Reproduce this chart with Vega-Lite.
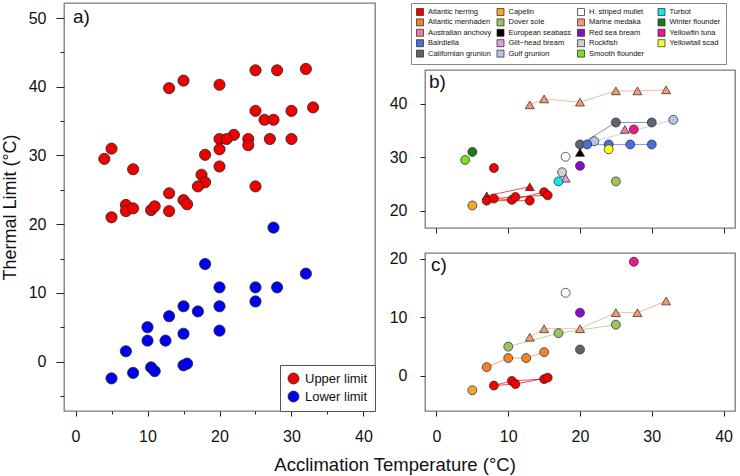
{
  "$schema": "https://vega.github.io/schema/vega-lite/v6.json",
  "background": "white",
  "padding": {"left": 0, "top": 2, "right": 0, "bottom": 0},
  "config": {
    "font": "Liberation Sans",
    "view": {"stroke": "#7a7a7a", "strokeWidth": 1.3},
    "axis": {"domain": false, "grid": false, "labelFont": "Liberation Sans", "labelFontSize": 16, "labelColor": "#111", "tickColor": "#222", "tickWidth": 1, "titleFont": "Liberation Sans", "titleFontWeight": "normal", "titleFontSize": 18, "titleColor": "#111", "labelOverlap": false, "labelFlush": false, "labelBound": false},
    "title": {"font": "Liberation Sans", "fontWeight": "normal", "color": "#111"}
  },
  "datasets": {
    "pts": [
      {"sp": "Atlantic herring", "lim": "Upper limit", "method": "B", "T": 7, "v": 22.8},
      {"sp": "Atlantic herring", "lim": "Upper limit", "method": "B", "T": 13, "v": 24.5},
      {"sp": "Atlantic herring", "lim": "Upper limit", "method": "A", "T": 7, "v": 21.9},
      {"sp": "Atlantic herring", "lim": "Upper limit", "method": "A", "T": 8, "v": 22.3},
      {"sp": "Atlantic herring", "lim": "Upper limit", "method": "A", "T": 8, "v": 28.0},
      {"sp": "Atlantic herring", "lim": "Upper limit", "method": "A", "T": 10.5, "v": 22.05},
      {"sp": "Atlantic herring", "lim": "Upper limit", "method": "A", "T": 11, "v": 22.6},
      {"sp": "Atlantic herring", "lim": "Upper limit", "method": "A", "T": 13, "v": 21.9},
      {"sp": "Atlantic herring", "lim": "Upper limit", "method": "A", "T": 15, "v": 23.5},
      {"sp": "Atlantic herring", "lim": "Upper limit", "method": "A", "T": 15.5, "v": 22.9},
      {"sp": "Capelin", "lim": "Upper limit", "method": "A", "T": 5, "v": 21.0},
      {"sp": "Smooth flounder", "lim": "Upper limit", "method": "A", "T": 4, "v": 29.5},
      {"sp": "Winter flounder", "lim": "Upper limit", "method": "A", "T": 5, "v": 31.0},
      {"sp": "Marine medaka", "lim": "Upper limit", "method": "B", "T": 13, "v": 39.8},
      {"sp": "Marine medaka", "lim": "Upper limit", "method": "B", "T": 15, "v": 40.9},
      {"sp": "Marine medaka", "lim": "Upper limit", "method": "B", "T": 20, "v": 40.3},
      {"sp": "Marine medaka", "lim": "Upper limit", "method": "B", "T": 25, "v": 42.4},
      {"sp": "Marine medaka", "lim": "Upper limit", "method": "B", "T": 28, "v": 42.4},
      {"sp": "Marine medaka", "lim": "Upper limit", "method": "B", "T": 32, "v": 42.6},
      {"sp": "Californian grunion", "lim": "Upper limit", "method": "A", "T": 20, "v": 32.4},
      {"sp": "Californian grunion", "lim": "Upper limit", "method": "A", "T": 25, "v": 36.5},
      {"sp": "Californian grunion", "lim": "Upper limit", "method": "A", "T": 30, "v": 36.5},
      {"sp": "Gulf grunion", "lim": "Upper limit", "method": "A", "T": 22, "v": 33.0},
      {"sp": "Gulf grunion", "lim": "Upper limit", "method": "A", "T": 33, "v": 37.0},
      {"sp": "Bairdiella", "lim": "Upper limit", "method": "A", "T": 21, "v": 32.4},
      {"sp": "Bairdiella", "lim": "Upper limit", "method": "A", "T": 24, "v": 32.4},
      {"sp": "Bairdiella", "lim": "Upper limit", "method": "A", "T": 27, "v": 32.4},
      {"sp": "Bairdiella", "lim": "Upper limit", "method": "A", "T": 30, "v": 32.4},
      {"sp": "Australian anchovy", "lim": "Upper limit", "method": "B", "T": 26.25, "v": 35.2},
      {"sp": "Yellowfin tuna", "lim": "Upper limit", "method": "A", "T": 27.5, "v": 35.2},
      {"sp": "Yellowtail scad", "lim": "Upper limit", "method": "A", "T": 24, "v": 31.5},
      {"sp": "European seabass", "lim": "Upper limit", "method": "B", "T": 20, "v": 30.9},
      {"sp": "H. striped mullet", "lim": "Upper limit", "method": "A", "T": 18, "v": 30.1},
      {"sp": "Red sea bream", "lim": "Upper limit", "method": "A", "T": 20, "v": 28.4},
      {"sp": "Rockfish", "lim": "Upper limit", "method": "A", "T": 17.5, "v": 27.2},
      {"sp": "Gilt−head bream", "lim": "Upper limit", "method": "B", "T": 18, "v": 26.1},
      {"sp": "Turbot", "lim": "Upper limit", "method": "A", "T": 17, "v": 25.5},
      {"sp": "Dover sole", "lim": "Upper limit", "method": "A", "T": 25, "v": 25.5},
      {"sp": "Atlantic herring", "lim": "Lower limit", "method": "A", "T": 8, "v": -1.65},
      {"sp": "Atlantic herring", "lim": "Lower limit", "method": "A", "T": 10.5, "v": -0.85},
      {"sp": "Atlantic herring", "lim": "Lower limit", "method": "A", "T": 11, "v": -1.4},
      {"sp": "Atlantic herring", "lim": "Lower limit", "method": "A", "T": 15, "v": -0.55},
      {"sp": "Atlantic herring", "lim": "Lower limit", "method": "A", "T": 15.5, "v": -0.3},
      {"sp": "Capelin", "lim": "Lower limit", "method": "A", "T": 5, "v": -2.45},
      {"sp": "Atlantic menhaden", "lim": "Lower limit", "method": "A", "T": 7, "v": 1.5},
      {"sp": "Atlantic menhaden", "lim": "Lower limit", "method": "A", "T": 10, "v": 3.05},
      {"sp": "Atlantic menhaden", "lim": "Lower limit", "method": "A", "T": 12.5, "v": 3.05},
      {"sp": "Atlantic menhaden", "lim": "Lower limit", "method": "A", "T": 15, "v": 4.05},
      {"sp": "Dover sole", "lim": "Lower limit", "method": "A", "T": 10, "v": 5.0},
      {"sp": "Dover sole", "lim": "Lower limit", "method": "A", "T": 17, "v": 7.3},
      {"sp": "Dover sole", "lim": "Lower limit", "method": "A", "T": 25, "v": 8.75},
      {"sp": "Marine medaka", "lim": "Lower limit", "method": "B", "T": 13, "v": 6.6},
      {"sp": "Marine medaka", "lim": "Lower limit", "method": "B", "T": 15, "v": 8.05},
      {"sp": "Marine medaka", "lim": "Lower limit", "method": "B", "T": 20, "v": 8.05},
      {"sp": "Marine medaka", "lim": "Lower limit", "method": "B", "T": 25, "v": 10.8},
      {"sp": "Marine medaka", "lim": "Lower limit", "method": "B", "T": 28, "v": 10.8},
      {"sp": "Marine medaka", "lim": "Lower limit", "method": "B", "T": 32, "v": 12.8},
      {"sp": "Red sea bream", "lim": "Lower limit", "method": "A", "T": 20, "v": 10.8},
      {"sp": "H. striped mullet", "lim": "Lower limit", "method": "A", "T": 18, "v": 14.2},
      {"sp": "Yellowfin tuna", "lim": "Lower limit", "method": "A", "T": 27.5, "v": 19.5},
      {"sp": "Californian grunion", "lim": "Lower limit", "method": "A", "T": 20, "v": 4.5}
    ],
    "lines": [
      {"sp": "Atlantic herring", "lim": "Upper limit", "s": "hU1", "T": 7, "v": 22.8},
      {"sp": "Atlantic herring", "lim": "Upper limit", "s": "hU1", "T": 13, "v": 24.5},
      {"sp": "Atlantic herring", "lim": "Upper limit", "s": "hU2", "T": 7, "v": 21.9},
      {"sp": "Atlantic herring", "lim": "Upper limit", "s": "hU2", "T": 13, "v": 21.9},
      {"sp": "Atlantic herring", "lim": "Upper limit", "s": "hU3", "T": 8, "v": 22.3},
      {"sp": "Atlantic herring", "lim": "Upper limit", "s": "hU3", "T": 10.5, "v": 22.05},
      {"sp": "Atlantic herring", "lim": "Upper limit", "s": "hU3", "T": 15, "v": 23.5},
      {"sp": "Atlantic herring", "lim": "Upper limit", "s": "hU4", "T": 8, "v": 22.3},
      {"sp": "Atlantic herring", "lim": "Upper limit", "s": "hU4", "T": 11, "v": 22.6},
      {"sp": "Atlantic herring", "lim": "Upper limit", "s": "hU4", "T": 15.5, "v": 22.9},
      {"sp": "Marine medaka", "lim": "Upper limit", "s": "mU", "T": 13, "v": 39.8},
      {"sp": "Marine medaka", "lim": "Upper limit", "s": "mU", "T": 15, "v": 40.9},
      {"sp": "Marine medaka", "lim": "Upper limit", "s": "mU", "T": 20, "v": 40.3},
      {"sp": "Marine medaka", "lim": "Upper limit", "s": "mU", "T": 25, "v": 42.4},
      {"sp": "Marine medaka", "lim": "Upper limit", "s": "mU", "T": 28, "v": 42.4},
      {"sp": "Marine medaka", "lim": "Upper limit", "s": "mU", "T": 32, "v": 42.6},
      {"sp": "Californian grunion", "lim": "Upper limit", "s": "cU", "T": 20, "v": 32.4},
      {"sp": "Californian grunion", "lim": "Upper limit", "s": "cU", "T": 25, "v": 36.5},
      {"sp": "Californian grunion", "lim": "Upper limit", "s": "cU", "T": 30, "v": 36.5},
      {"sp": "Gulf grunion", "lim": "Upper limit", "s": "gU", "T": 22, "v": 33.0},
      {"sp": "Gulf grunion", "lim": "Upper limit", "s": "gU", "T": 33, "v": 37.0},
      {"sp": "Bairdiella", "lim": "Upper limit", "s": "bU", "T": 21, "v": 32.4},
      {"sp": "Bairdiella", "lim": "Upper limit", "s": "bU", "T": 24, "v": 32.4},
      {"sp": "Bairdiella", "lim": "Upper limit", "s": "bU", "T": 27, "v": 32.4},
      {"sp": "Bairdiella", "lim": "Upper limit", "s": "bU", "T": 30, "v": 32.4},
      {"sp": "Atlantic herring", "lim": "Lower limit", "s": "hL1", "T": 8, "v": -1.65},
      {"sp": "Atlantic herring", "lim": "Lower limit", "s": "hL1", "T": 10.5, "v": -0.85},
      {"sp": "Atlantic herring", "lim": "Lower limit", "s": "hL1", "T": 15, "v": -0.55},
      {"sp": "Atlantic herring", "lim": "Lower limit", "s": "hL2", "T": 8, "v": -1.65},
      {"sp": "Atlantic herring", "lim": "Lower limit", "s": "hL2", "T": 11, "v": -1.4},
      {"sp": "Atlantic herring", "lim": "Lower limit", "s": "hL2", "T": 15.5, "v": -0.3},
      {"sp": "Atlantic menhaden", "lim": "Lower limit", "s": "aL", "T": 7, "v": 1.5},
      {"sp": "Atlantic menhaden", "lim": "Lower limit", "s": "aL", "T": 10, "v": 3.05},
      {"sp": "Atlantic menhaden", "lim": "Lower limit", "s": "aL", "T": 12.5, "v": 3.05},
      {"sp": "Atlantic menhaden", "lim": "Lower limit", "s": "aL", "T": 15, "v": 4.05},
      {"sp": "Dover sole", "lim": "Lower limit", "s": "dL", "T": 10, "v": 5.0},
      {"sp": "Dover sole", "lim": "Lower limit", "s": "dL", "T": 17, "v": 7.3},
      {"sp": "Dover sole", "lim": "Lower limit", "s": "dL", "T": 25, "v": 8.75},
      {"sp": "Marine medaka", "lim": "Lower limit", "s": "mL", "T": 13, "v": 6.6},
      {"sp": "Marine medaka", "lim": "Lower limit", "s": "mL", "T": 15, "v": 8.05},
      {"sp": "Marine medaka", "lim": "Lower limit", "s": "mL", "T": 20, "v": 8.05},
      {"sp": "Marine medaka", "lim": "Lower limit", "s": "mL", "T": 25, "v": 10.8},
      {"sp": "Marine medaka", "lim": "Lower limit", "s": "mL", "T": 28, "v": 10.8},
      {"sp": "Marine medaka", "lim": "Lower limit", "s": "mL", "T": 32, "v": 12.8}
    ]
  },
  "title": {"text": "Acclimation Temperature (°C)", "orient": "bottom", "anchor": "middle", "fontSize": 18.5, "offset": 11, "dx": 27},
  "spacing": 50,
  "bounds": "flush",
  "resolve": {"scale": {"color": "independent", "shape": "independent", "stroke": "independent", "x": "independent", "y": "independent"}, "legend": {"color": "independent"}},
  "hconcat": [
    {
      "width": 311,
      "height": 408,
      "data": {"name": "pts"},
      "title": {"text": "a)", "anchor": "start", "frame": "group", "orient": "top", "offset": -39, "dx": 9, "fontSize": 19, "baseline": "alphabetic"},
      "mark": {"type": "point", "filled": true, "size": 125, "stroke": "#222", "strokeWidth": 0.8, "opacity": 1},
      "encoding": {
        "x": {"field": "T", "type": "quantitative", "scale": {"domain": [-1.6, 41.6], "nice": false, "zero": false},
          "axis": {"orient": "bottom", "title": null, "values": [0, 5, 10, 15, 20, 25, 30, 35, 40], "labelExpr": "datum.value % 10 === 0 ? datum.label : ''", "tickSize": {"condition": {"test": "datum.value % 10 === 0", "value": 5}, "value": 3}, "labelPadding": 12}},
        "y": {"field": "v", "type": "quantitative", "scale": {"domain": [-7.2, 52.2], "nice": false, "zero": false},
          "axis": {"orient": "left", "title": "Thermal Limit (°C)", "values": [-5, 0, 5, 10, 15, 20, 25, 30, 35, 40, 45, 50], "labelExpr": "datum.value % 10 === 0 ? datum.label : ''", "tickSize": {"condition": {"test": "datum.value % 10 === 0", "value": 8}, "value": 4}, "labelPadding": 10, "titlePadding": 9}},
        "color": {"field": "lim", "type": "nominal", "scale": {"domain": ["Upper limit", "Lower limit"], "range": ["#F00000", "#0000F0"]},
          "legend": {"title": null, "orient": "bottom-right", "offset": 0, "padding": 7, "strokeColor": "#555", "fillColor": "white", "symbolType": "circle", "symbolSize": 120, "symbolStrokeColor": "#222", "symbolStrokeWidth": 0.8, "symbolOpacity": 1, "labelFontSize": 13, "labelFont": "Liberation Sans", "labelColor": "#111", "labelOffset": 5, "rowPadding": 3}}
      }
    },
    {
      "vconcat": [
        {
          "width": 310, "height": 42,
          "data": {"name": "pts"},
          "mark": {"type": "square", "opacity": 0},
          "view": {"stroke": null},
          "encoding": {
            "color": {"field": "sp", "type": "nominal",
              "scale": {"domain": ["Atlantic herring", "Atlantic menhaden", "Australian anchovy", "Bairdiella", "Californian grunion", "Capelin", "Dover sole", "European seabass", "Gilt−head bream", "Gulf grunion", "H. striped mullet", "Marine medaka", "Red sea bream", "Rockfish", "Smooth flounder", "Turbot", "Winter flounder", "Yellowfin tuna", "Yellowtail scad"],
                "range": ["#F00000", "#F5832B", "#EE7C9E", "#4A6EE0", "#5B6672", "#F2A72E", "#9DC35E", "#000000", "#DDA0DD", "#B3C5E0", "#FFFFFF", "#F29A78", "#8510C8", "#D0D0D0", "#76E21F", "#19E3E8", "#1F7A1F", "#F0168E", "#FFFF22"]},
              "legend": {"title": null, "orient": "none", "legendX": -14, "legendY": 0, "columns": 4, "gridAlign": "all", "symbolType": "square", "symbolSize": 49, "symbolStrokeColor": "#222", "symbolStrokeWidth": 0.7, "symbolOpacity": 1, "labelFontSize": 7.5, "labelFont": "Liberation Sans", "labelColor": "#111", "labelOffset": 4, "columnPadding": 3.5, "rowPadding": 0.4, "padding": 5, "strokeColor": "#888", "fillColor": "white", "labelLimit": 200}}
          }
        },
        {
          "width": 310,
          "height": 158,
          "title": {"text": "b)", "anchor": "start", "frame": "group", "orient": "top", "offset": -37, "dx": 4, "fontSize": 19, "baseline": "alphabetic"},
          "layer": [
            {
              "data": {"name": "lines"},
              "transform": [{"filter": "datum.lim === 'Upper limit'"}],
              "mark": {"type": "line", "strokeWidth": 1, "opacity": 0.7},
              "encoding": {
                "x": {"field": "T", "type": "quantitative", "scale": {"domain": [-1.6, 41.6], "nice": false, "zero": false},
                  "axis": {"orient": "bottom", "title": null, "labelExpr": "''", "values": [0, 5, 10, 15, 20, 25, 30, 35, 40], "tickSize": {"condition": {"test": "datum.value % 10 === 0", "value": 5}, "value": 3}}},
                "y": {"field": "v", "type": "quantitative", "scale": {"domain": [16.8, 46.3], "nice": false, "zero": false},
                  "axis": {"orient": "left", "title": null, "values": [20, 25, 30, 35, 40, 45], "labelExpr": "datum.value % 10 === 0 ? datum.label : ''", "tickSize": {"condition": {"test": "datum.value % 10 === 0", "value": 5}, "value": 3}, "labelPadding": 13}},
                "stroke": {"field": "sp", "type": "nominal", "legend": null,
                  "scale": {"domain": ["Atlantic herring", "Atlantic menhaden", "Australian anchovy", "Bairdiella", "Californian grunion", "Capelin", "Dover sole", "European seabass", "Gilt−head bream", "Gulf grunion", "H. striped mullet", "Marine medaka", "Red sea bream", "Rockfish", "Smooth flounder", "Turbot", "Winter flounder", "Yellowfin tuna", "Yellowtail scad"],
                    "range": ["#F00000", "#F5832B", "#EE7C9E", "#4A6EE0", "#5B6672", "#F2A72E", "#9DC35E", "#000000", "#DDA0DD", "#B3C5E0", "#FFFFFF", "#F29A78", "#8510C8", "#D0D0D0", "#76E21F", "#19E3E8", "#1F7A1F", "#F0168E", "#FFFF22"]}},
                "detail": {"field": "s", "type": "nominal"}
              }
            },
            {
              "data": {"name": "pts"},
              "transform": [{"filter": "datum.lim === 'Upper limit'"}],
              "mark": {"type": "point", "filled": true, "size": 80, "stroke": "#222", "strokeWidth": 0.7, "opacity": 1},
              "encoding": {
                "x": {"field": "T", "type": "quantitative", "scale": {"domain": [-1.6, 41.6], "nice": false, "zero": false}},
                "y": {"field": "v", "type": "quantitative", "scale": {"domain": [16.8, 46.3], "nice": false, "zero": false}},
                "color": {"field": "sp", "type": "nominal", "legend": null,
                  "scale": {"domain": ["Atlantic herring", "Atlantic menhaden", "Australian anchovy", "Bairdiella", "Californian grunion", "Capelin", "Dover sole", "European seabass", "Gilt−head bream", "Gulf grunion", "H. striped mullet", "Marine medaka", "Red sea bream", "Rockfish", "Smooth flounder", "Turbot", "Winter flounder", "Yellowfin tuna", "Yellowtail scad"],
                    "range": ["#F00000", "#F5832B", "#EE7C9E", "#4A6EE0", "#5B6672", "#F2A72E", "#9DC35E", "#000000", "#DDA0DD", "#B3C5E0", "#FFFFFF", "#F29A78", "#8510C8", "#D0D0D0", "#76E21F", "#19E3E8", "#1F7A1F", "#F0168E", "#FFFF22"]}},
                "shape": {"field": "method", "type": "nominal", "scale": {"domain": ["A", "B"], "range": ["circle", "triangle-up"]}, "legend": null}
              }
            }
          ]
        },
        {
          "width": 310,
          "height": 158,
          "title": {"text": "c)", "anchor": "start", "frame": "group", "orient": "top", "offset": -39, "dx": 6, "fontSize": 19, "baseline": "alphabetic"},
          "layer": [
            {
              "data": {"name": "lines"},
              "transform": [{"filter": "datum.lim === 'Lower limit'"}],
              "mark": {"type": "line", "strokeWidth": 1, "opacity": 0.7},
              "encoding": {
                "x": {"field": "T", "type": "quantitative", "scale": {"domain": [-1.6, 41.6], "nice": false, "zero": false},
                  "axis": {"orient": "bottom", "title": null, "values": [0, 5, 10, 15, 20, 25, 30, 35, 40], "labelExpr": "datum.value % 10 === 0 ? datum.label : ''", "tickSize": {"condition": {"test": "datum.value % 10 === 0", "value": 5}, "value": 3}, "labelPadding": 12}},
                "y": {"field": "v", "type": "quantitative", "scale": {"domain": [-6, 21], "nice": false, "zero": false},
                  "axis": {"orient": "left", "title": null, "values": [0, 10, 20], "tickSize": 5, "labelPadding": 13, "zindex": 1}},
                "stroke": {"field": "sp", "type": "nominal", "legend": null,
                  "scale": {"domain": ["Atlantic herring", "Atlantic menhaden", "Australian anchovy", "Bairdiella", "Californian grunion", "Capelin", "Dover sole", "European seabass", "Gilt−head bream", "Gulf grunion", "H. striped mullet", "Marine medaka", "Red sea bream", "Rockfish", "Smooth flounder", "Turbot", "Winter flounder", "Yellowfin tuna", "Yellowtail scad"],
                    "range": ["#F00000", "#F5832B", "#EE7C9E", "#4A6EE0", "#5B6672", "#F2A72E", "#9DC35E", "#000000", "#DDA0DD", "#B3C5E0", "#FFFFFF", "#F29A78", "#8510C8", "#D0D0D0", "#76E21F", "#19E3E8", "#1F7A1F", "#F0168E", "#FFFF22"]}},
                "detail": {"field": "s", "type": "nominal"}
              }
            },
            {
              "data": {"name": "pts"},
              "transform": [{"filter": "datum.lim === 'Lower limit'"}],
              "mark": {"type": "point", "filled": true, "size": 80, "stroke": "#222", "strokeWidth": 0.7, "opacity": 1},
              "encoding": {
                "x": {"field": "T", "type": "quantitative", "scale": {"domain": [-1.6, 41.6], "nice": false, "zero": false}},
                "y": {"field": "v", "type": "quantitative", "scale": {"domain": [-6, 21], "nice": false, "zero": false},
                  "axis": {"orient": "left", "title": null, "values": [0, 10, 20], "tickSize": 5, "labelPadding": 13, "zindex": 1}},
                "color": {"field": "sp", "type": "nominal", "legend": null,
                  "scale": {"domain": ["Atlantic herring", "Atlantic menhaden", "Australian anchovy", "Bairdiella", "Californian grunion", "Capelin", "Dover sole", "European seabass", "Gilt−head bream", "Gulf grunion", "H. striped mullet", "Marine medaka", "Red sea bream", "Rockfish", "Smooth flounder", "Turbot", "Winter flounder", "Yellowfin tuna", "Yellowtail scad"],
                    "range": ["#F00000", "#F5832B", "#EE7C9E", "#4A6EE0", "#5B6672", "#F2A72E", "#9DC35E", "#000000", "#DDA0DD", "#B3C5E0", "#FFFFFF", "#F29A78", "#8510C8", "#D0D0D0", "#76E21F", "#19E3E8", "#1F7A1F", "#F0168E", "#FFFF22"]}},
                "shape": {"field": "method", "type": "nominal", "scale": {"domain": ["A", "B"], "range": ["circle", "triangle-up"]}, "legend": null}
              }
            }
          ]
        }
      ],
      "spacing": 25,
      "bounds": "flush",
      "resolve": {"scale": {"x": "independent", "y": "independent", "color": "independent", "stroke": "independent", "shape": "independent"}, "legend": {"color": "independent"}}
    }
  ]
}
